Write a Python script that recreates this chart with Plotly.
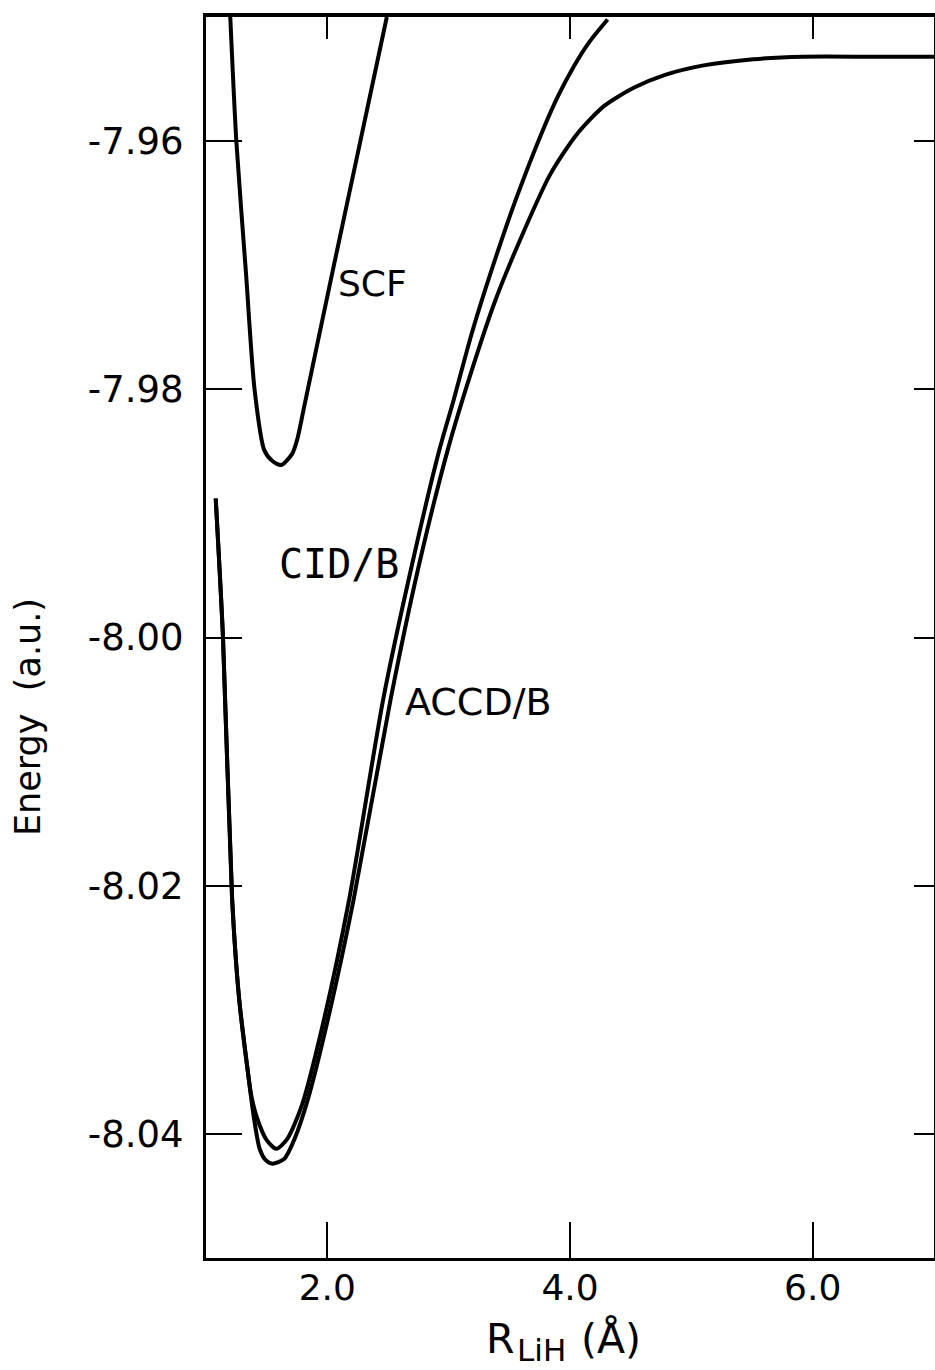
import plotly.graph_objects as go

# Li-H internuclear distance (angstrom) and total energy (hartree) for each method
r_scf = [1.20, 1.25, 1.33, 1.40, 1.48, 1.55, 1.62, 1.71, 1.753, 1.805, 1.925, 2.05,
         2.27, 2.49]
e_scf = [-7.9500, -7.9600, -7.9707, -7.9800, -7.9849, -7.9858, -7.9861, -7.9852,
         -7.9840, -7.9816, -7.9760, -7.9702, -7.9601, -7.9500]

r_cid = [1.08, 1.14, 1.215, 1.273, 1.349, 1.375, 1.42, 1.50, 1.58, 1.67, 1.79, 1.96,
         2.18, 2.46, 2.687, 2.923, 3.04, 3.19, 3.36, 3.55, 3.76, 3.90, 4.03, 4.16, 4.31]
e_cid = [-7.9888, -8.0000, -8.0210, -8.0291, -8.0353, -8.0370, -8.0387, -8.0405,
         -8.0412, -8.0404, -8.0377, -8.0313, -8.0211, -8.0050, -7.9946, -7.9849,
         -7.9809, -7.9755, -7.9702, -7.9648, -7.9595, -7.9564, -7.9540, -7.9520,
         -7.9502]

r_accd = [1.08, 1.14, 1.215, 1.273, 1.349, 1.38, 1.411, 1.442, 1.49, 1.547, 1.646,
          1.73, 1.84, 2.011, 2.217, 2.521, 2.745, 2.992, 3.196, 3.382, 3.609, 3.836,
          4.052, 4.277, 4.525, 4.772, 5.101, 5.512, 5.923, 6.498, 7.0]
e_accd = [-7.9888, -8.0000, -8.0210, -8.0291, -8.0353, -8.0377, -8.0397, -8.0412,
          -8.0421, -8.0424, -8.0420, -8.0404, -8.0372, -8.0305, -8.0211, -8.0050,
          -7.9946, -7.9849, -7.9783, -7.9729, -7.9675, -7.9627, -7.9595, -7.9572,
          -7.9557, -7.9547, -7.9539, -7.9534, -7.9532, -7.9532, -7.9532]

x_ticks = [2.0, 4.0, 6.0]
x_ticktext = ["2.0", "4.0", "6.0"]
y_ticks = [-7.96, -7.98, -8.00, -8.02, -8.04]
y_ticktext = ["-7.96", "-7.98", "-8.00", "-8.02", "-8.04"]

FONT = "DejaVu Sans"
line_style = dict(color="black", width=4, shape="spline", smoothing=0.7)

fig = go.Figure()
for r, e in [(r_scf, e_scf), (r_cid, e_cid), (r_accd, e_accd)]:
    fig.add_trace(go.Scatter(x=r, y=e, mode="lines", line=line_style,
                             showlegend=False, hoverinfo="skip"))

# placeholder trace so the top/right frame axes get drawn
fig.add_trace(go.Scatter(x=[None], y=[None], xaxis="x2", yaxis="y2",
                         showlegend=False, hoverinfo="skip"))

common = dict(showgrid=False, zeroline=False, showline=True, linecolor="black",
              tickcolor="black", ticks="inside", tickwidth=2)

fig.update_layout(
    width=935, height=1370,
    margin=dict(l=206, r=1, t=17, b=112),
    paper_bgcolor="white", plot_bgcolor="white",
    font=dict(family=FONT, color="black"),
    xaxis=dict(range=[1.0, 7.0], tickvals=x_ticks, ticktext=x_ticktext,
               ticklen=36, linewidth=3, tickfont=dict(size=36, family=FONT),
               ticklabelstandoff=-4, **common),
    yaxis=dict(range=[-8.05, -7.95], tickvals=y_ticks, ticktext=y_ticktext,
               ticklen=36, linewidth=3, tickfont=dict(size=37, family=FONT),
               ticklabelstandoff=12, **common),
    xaxis2=dict(range=[1.0, 7.0], tickvals=x_ticks, overlaying="x", side="top",
                anchor="y2", ticklen=22, linewidth=4, showticklabels=False, **common),
    yaxis2=dict(range=[-8.05, -7.95], tickvals=y_ticks, overlaying="y", side="right",
                anchor="x2", ticklen=20, linewidth=3, showticklabels=False, **common),
)

centered = dict(showarrow=False, xanchor="center", yanchor="middle")

# curve labels
fig.add_annotation(x=2.376, y=-7.9715, text="SCF",
                   font=dict(size=36, family=FONT), **centered)
fig.add_annotation(x=2.092, y=-7.9941, text="CID/B",
                   font=dict(size=40, family="DejaVu Sans Mono"), **centered)
fig.add_annotation(x=3.242, y=-8.0052, text="ACCD/B",
                   font=dict(size=38, family=FONT), **centered)

# axis titles
px_x = lambda p: (p - 206) / 728.0
px_y = lambda p: (1258 - p) / 1241.0
fig.add_annotation(xref="paper", yref="paper", x=px_x(500), y=px_y(1339),
                   text="R", font=dict(size=41, family=FONT), **centered)
fig.add_annotation(xref="paper", yref="paper", x=px_x(541), y=px_y(1350),
                   text="LiH", font=dict(size=31, family=FONT), **centered)
fig.add_annotation(xref="paper", yref="paper", x=px_x(611), y=px_y(1339),
                   text="(Å)", font=dict(size=41, family=FONT), **centered)
fig.add_annotation(xref="paper", yref="paper", x=px_x(28), y=px_y(717),
                   text="Energy  (a.u.)", textangle=-90,
                   font=dict(size=35, family=FONT), **centered)

fig.write_html("out.html")
